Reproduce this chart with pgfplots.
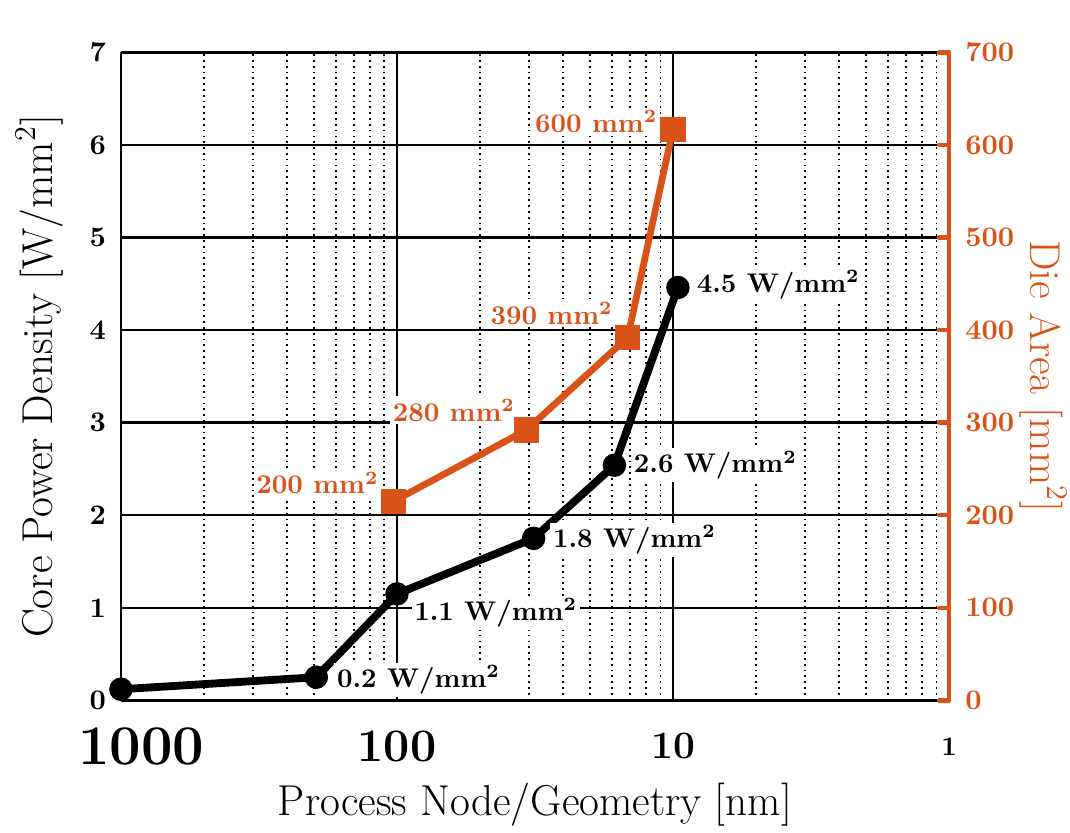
\documentclass[border=0pt]{standalone}
\usepackage{fontspec}
\usepackage{pgfplots}
\pgfplotsset{compat=1.18}
\usetikzlibrary{calc}
\definecolor{dieorange}{RGB}{217,83,25}

% core power density [W/mm^2] against process node [nm]
\pgfplotstableread{
x y
1000 0.12
196 0.25
100 1.15
32 1.75
16.3 2.54
9.6 4.46
}\powertab

% die area [mm^2]
\pgfplotstableread{
x y
103 215
34 292
14.6 392
10 617
}\areatab

\newcommand{\lblfont}{\fontsize{16}{19}\selectfont}

\begin{document}
\begin{tikzpicture}
\begin{axis}[name=main, clip=false,
    scale only axis, width=306.7pt, height=240pt,
    xmode=log, x dir=reverse, xmin=1, xmax=1000,
    /pgf/number format/assume math mode=true,
    ymin=0, ymax=7, ytick={0,...,7},
    axis y line*=left,
    axis line style={black, line width=0.9pt},
    xtick={1,10,100,1000},
    % minor grid at 1000/k, 100/k, 10/k (k = 2..9), as in the original
    minor xtick={500,333.333,250,200,166.667,142.857,125,111.111,
                 50,33.3333,25,20,16.6667,14.2857,12.5,11.1111,
                 5,3.33333,2.5,2,1.66667,1.42857,1.25,1.11111},
    xticklabels={{\normalsize 1},{\Large 10},{\LARGE 100},{\hspace*{15pt}\huge 1000}},
    xticklabel style={anchor=center, yshift=-17pt, font=\bfseries},
    yticklabel style={font=\fontsize{10.5}{12}\selectfont\bfseries, xshift=-2pt},
    tick style={draw=none},
    xmajorgrids, xminorgrids, ymajorgrids,
    major grid style={black, line width=0.9pt},
    minor grid style={black, line width=0.65pt, dash pattern=on 0.65pt off 1.5pt},
    xlabel={Process Node/Geometry [nm]},
    xlabel style={font=\lblfont, inner sep=0pt, at={(axis description cs:0.5,-0.161)}, anchor=center},
    ylabel={Core Power Density [W/mm\textsuperscript{2}]},
    ylabel style={font=\lblfont, inner sep=0pt, at={(axis description cs:-0.098,0.5)}, anchor=center},
  ]
  \addplot[black, line width=2.9pt, mark=*, mark size=4.1pt, mark options={line width=0.5pt}]
    table {\powertab};
  \node[font=\bfseries, fill=white, inner sep=1pt, anchor=west, xshift=6.5pt, yshift=-1pt] at (axis cs:196,0.25) {0.2 W/mm\textsuperscript{2}};
  \node[font=\bfseries, fill=white, inner sep=1pt, anchor=west, xshift=5.2pt, yshift=-7pt] at (axis cs:100,1.15) {1.1 W/mm\textsuperscript{2}};
  \node[font=\bfseries, fill=white, inner sep=1pt, anchor=west, xshift=6pt, yshift=-0.6pt] at (axis cs:32,1.75) {1.8 W/mm\textsuperscript{2}};
  \node[font=\bfseries, fill=white, inner sep=1pt, anchor=west, xshift=6pt] at (axis cs:16.3,2.54) {2.6 W/mm\textsuperscript{2}};
  \node[font=\bfseries, fill=white, inner sep=1pt, anchor=west, xshift=5.8pt, yshift=1pt] at (axis cs:9.6,4.46) {4.5 W/mm\textsuperscript{2}};
\end{axis}

\begin{axis}[
    scale only axis, width=306.7pt, height=240pt,
    xmode=log, x dir=reverse, xmin=1, xmax=1000,
    /pgf/number format/assume math mode=true,
    hide x axis,
    axis y line*=right,
    ymin=0, ymax=700, ytick={0,100,...,700},
    y axis line style={dieorange, line width=1.6pt},
    ytick style={dieorange, line width=1.6pt, line cap=round},
    major tick length=3.7pt, tick align=inside,
    yticklabel style={dieorange, font=\fontsize{10.5}{12}\selectfont\bfseries, xshift=2.5pt},
    ylabel={Die Area [mm\textsuperscript{2}]},
    ylabel style={dieorange, font=\lblfont, inner sep=0pt, rotate=180, at={(axis description cs:1.114,0.5)}, anchor=center},
  ]
  \addplot[dieorange, line width=2.5pt, mark=square*, mark size=4.4pt, mark options={line width=0.5pt}]
    table {\areatab};
  \node[font=\bfseries, text=dieorange, fill=white, inner sep=1pt, anchor=east, xshift=-4.3pt, yshift=6.8pt] at (axis cs:103,215) {200 mm\textsuperscript{2}};
  \node[font=\bfseries, text=dieorange, fill=white, inner sep=1pt, anchor=east, xshift=-3pt, yshift=7.4pt] at (axis cs:34,292) {280 mm\textsuperscript{2}};
  \node[font=\bfseries, text=dieorange, fill=white, inner sep=1pt, anchor=east, xshift=-4.3pt, yshift=9pt] at (axis cs:14.6,392) {390 mm\textsuperscript{2}};
  \node[font=\bfseries, text=dieorange, fill=white, inner sep=1pt, anchor=east, xshift=-4.6pt, yshift=2.8pt] at (axis cs:10,617) {600 mm\textsuperscript{2}};
\end{axis}

\path ($(main.south west)+(-44.8pt,-49pt)$) rectangle ($(main.north east)+(44.8pt,19.4pt)$);
\end{tikzpicture}
\end{document}
